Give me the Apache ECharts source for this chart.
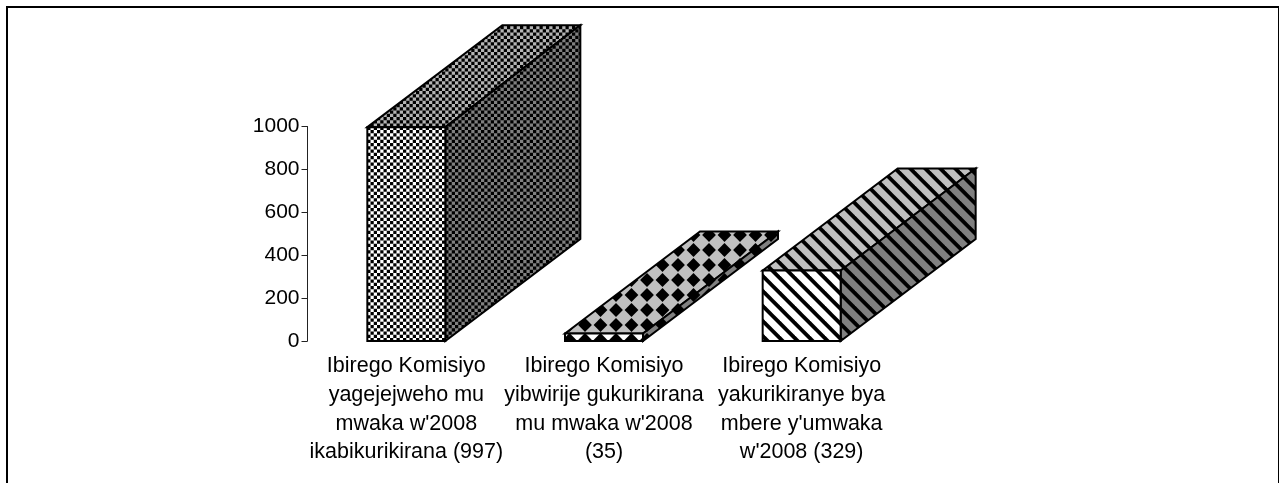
<!DOCTYPE html>
<html><head><meta charset="utf-8">
<style>html,body{margin:0;padding:0;background:#fff}#c{width:1279px;height:483px}</style>
<script src="https://cdn.jsdelivr.net/npm/echarts@6/dist/echarts.min.js"></script>
</head><body><div id="c"></div>
<script>
const categories = [
  "Ibirego Komisiyo\nyagejejweho mu\nmwaka w'2008\nikabikurikirana (997)",
  "Ibirego Komisiyo\nyibwirije gukurikirana\nmu mwaka w'2008\n(35)",
  "Ibirego Komisiyo\nyakurikiranye bya\nmbere y'umwaka\nw'2008 (329)"
];
const values = [997, 35, 329];
const yTicks = {min: 0, max: 1000, interval: 200};

function tile(w, h, draw) {
  const c = document.createElement('canvas');
  c.width = w; c.height = h;
  const g = c.getContext('2d');
  draw(g, w, h);
  return {image: c, repeat: 'repeat'};
}
function checker(bg) {
  return tile(13, 13, (g) => {
    g.fillStyle = bg; g.fillRect(0, 0, 13, 13);
    g.fillStyle = '#000';
    const s = 3.25;
    for (let i = 0; i < 4; i++) for (let j = 0; j < 4; j++) {
      if ((i + j) % 2 === 0) g.fillRect(i * s, j * s, s, s);
    }
  });
}
function diamonds(bg) {
  return tile(31, 30, (g) => {
    g.fillStyle = bg; g.fillRect(0, 0, 31, 30);
    g.fillStyle = '#000';
    const px = 15.5, py = 15, r = 6.9;
    for (let i = -1; i < 3; i++) for (let j = -1; j < 3; j++) {
      const cx = 11.5 + i * px, cy = 10 + j * py;
      g.beginPath();
      g.moveTo(cx - r, cy); g.lineTo(cx, cy - r); g.lineTo(cx + r, cy); g.lineTo(cx, cy + r);
      g.closePath(); g.fill();
    }
  });
}
function stripes(bg) {
  return tile(15, 15, (g, w) => {
    g.fillStyle = bg; g.fillRect(0, 0, 15, 15);
    g.strokeStyle = '#000'; g.lineWidth = 3.8;
    for (let k = -2; k < 3; k++) {
      const o = 6.7 + k * w;
      g.beginPath(); g.moveTo(o - 5, -5); g.lineTo(o + 25, 25); g.stroke();
    }
  });
}
const faces = [
  {front: checker('#ffffff'), top: checker('#b4b4b4'), side: checker('#808080')},
  {front: diamonds('#ffffff'), top: diamonds('#c0c0c0'), side: diamonds('#808080')},
  {front: stripes('#ffffff'), top: stripes('#c0c0c0'), side: stripes('#808080')}
];
const barWidth = 78, depthX = 135, depthY = 102;

function renderBar(params, api) {
  const i = api.value(0);
  const top = api.coord([i, api.value(1)]);
  const base = api.coord([i, 0]);
  const l = top[0] - barWidth / 2, r = top[0] + barWidth / 2, t = top[1], b = base[1];
  const border = {stroke: '#000', lineWidth: 2, lineJoin: 'miter'};
  const poly = (pts, fill) => ({type: 'polygon', shape: {points: pts}, style: Object.assign({fill}, border)});
  return {type: 'group', children: [
    poly([[l, t], [l + depthX, t - depthY], [r + depthX, t - depthY], [r, t]], faces[i].top),
    poly([[r, t], [r + depthX, t - depthY], [r + depthX, b - depthY], [r, b]], faces[i].side),
    poly([[l, t], [r, t], [r, b], [l, b]], faces[i].front)
  ]};
}

const font = '"Liberation Sans", Arial, sans-serif';
const chart = echarts.init(document.getElementById('c'), null, {renderer: 'canvas'});
chart.setOption({
  animation: false,
  backgroundColor: '#fff',
  textStyle: {fontFamily: font},
  graphic: [{type: 'rect', shape: {x: 7, y: 7, width: 1272, height: 500}, style: {fill: 'none', stroke: '#000', lineWidth: 2}, silent: true}],
  grid: {left: 307.5, top: 126.5, width: 593, height: 214.5, containLabel: false},
  xAxis: {
    type: 'category', data: categories,
    axisLine: {show: false}, axisTick: {show: false},
    axisLabel: {interval: 0, fontSize: 21.5, color: '#000', lineHeight: 28.7, margin: 11, align: 'center', verticalAlign: 'top', fontFamily: font}
  },
  yAxis: {
    type: 'value', min: yTicks.min, max: yTicks.max, interval: yTicks.interval,
    splitLine: {show: false},
    axisLine: {show: true, lineStyle: {color: '#222', width: 1}},
    axisTick: {show: true, length: 6, lineStyle: {color: '#222', width: 1}},
    axisLabel: {fontSize: 21, color: '#000', margin: 8, fontFamily: font, formatter: (v) => String(v)}
  },
  series: [{
    type: 'custom', clip: false, coordinateSystem: 'cartesian2d',
    encode: {x: 0, y: 1},
    data: values.map((v, i) => [i, v]),
    renderItem: renderBar
  }]
});
</script></body></html>
